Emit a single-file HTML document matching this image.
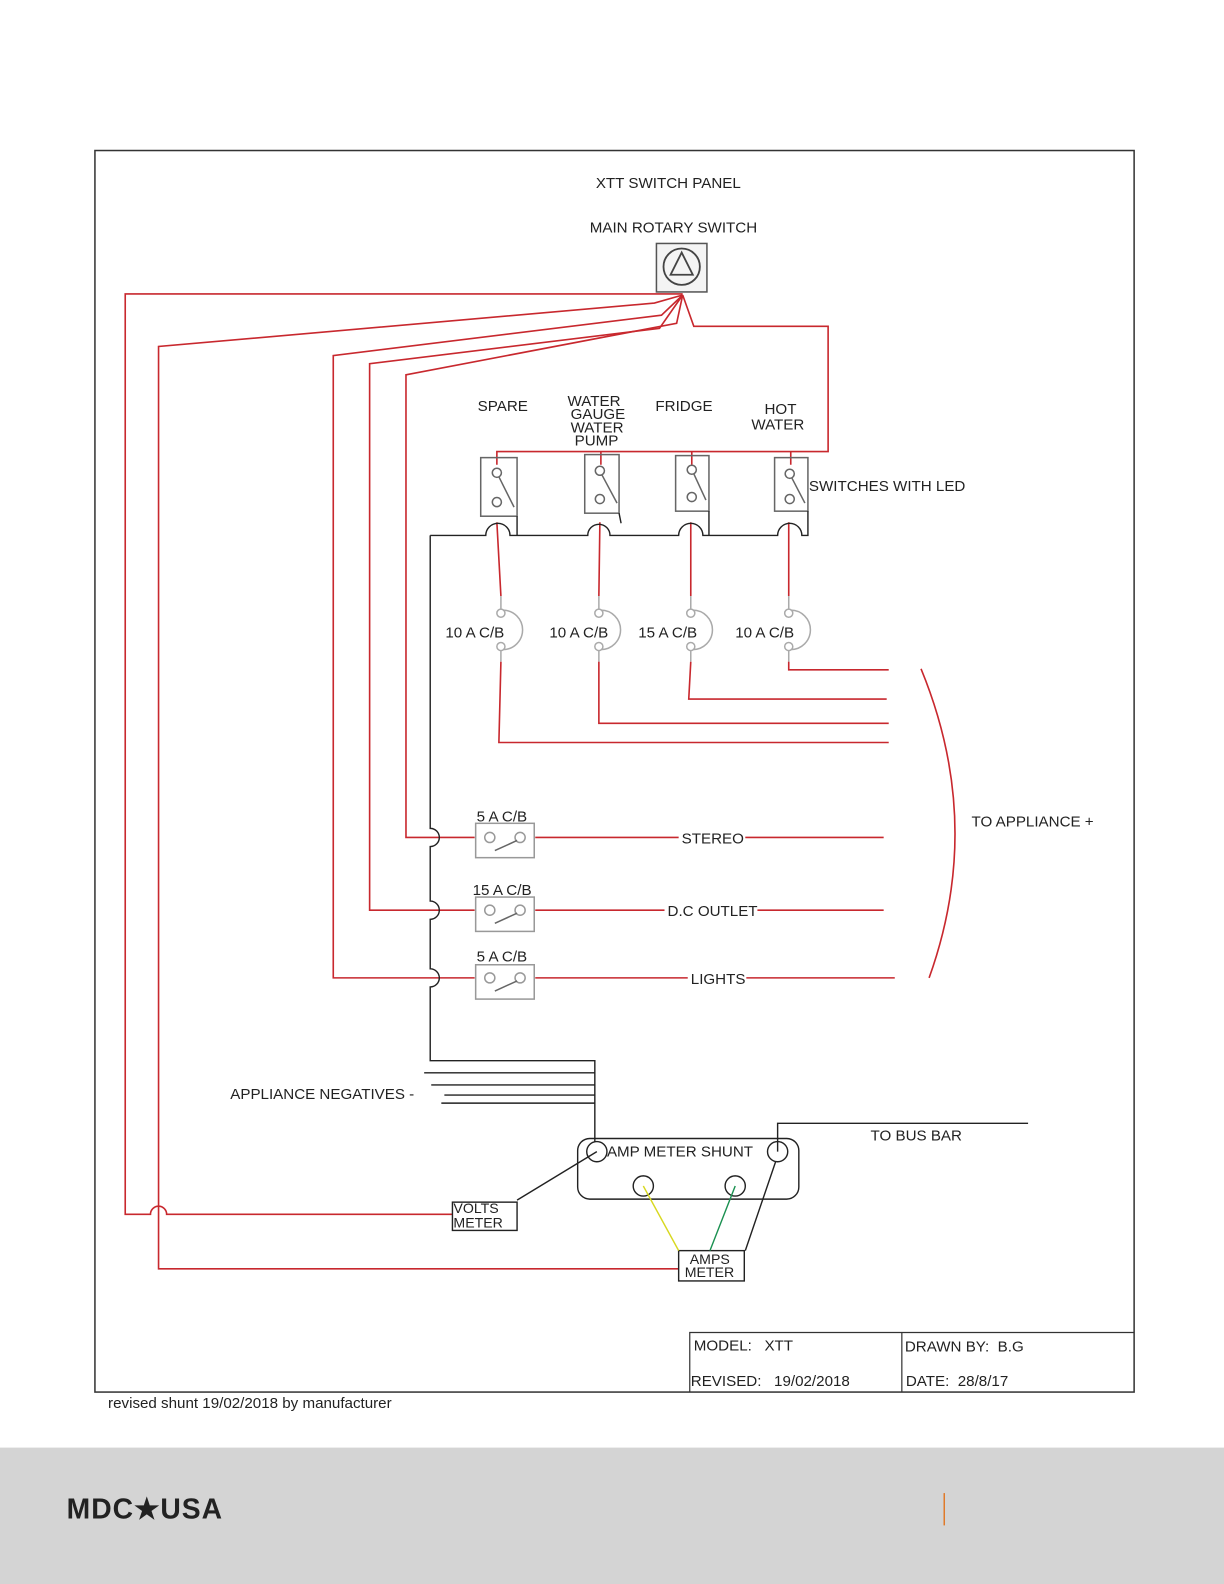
<!DOCTYPE html>
<html><head><meta charset="utf-8"><style>
html,body{margin:0;padding:0;background:#fff}
svg{display:block}
text{font-family:"Liberation Sans",sans-serif;fill:#222}
</style></head><body>
<svg width="1224" height="1584" viewBox="0 0 1212 1568" preserveAspectRatio="none" xmlns="http://www.w3.org/2000/svg">
<rect x="0" y="1433" width="1212" height="135" fill="#d4d4d4"/>
<line x1="935" y1="1478" x2="935" y2="1510" stroke="#e07a2a" stroke-width="1.5"/>
<text x="66" y="1503" font-size="28" font-weight="bold" fill="#222" style="fill:#222;letter-spacing:1px">MDC★USA</text>
<rect x="94" y="149" width="1029" height="1229" fill="none" stroke="#333" stroke-width="1.5"/>
<!-- rotary -->
<rect x="650" y="241" width="50" height="48" fill="#f4f4f4" stroke="#555" stroke-width="1.5"/>
<circle cx="675" cy="264" r="18" fill="none" stroke="#444" stroke-width="1.8"/>
<path d="M675 250 L664 272 H686 Z" fill="none" stroke="#444" stroke-width="1.8"/>
<g fill="none" stroke="#c8282e" stroke-width="1.6">
<path d="M676 291 H124 V1202 H149 A8 8 0 0 1 165 1202 H448"/>
<path d="M676 292 L648 300 L157 343 V1256 H672"/>
<path d="M676 292 L655 312 L330 352 V968 H470"/>
<path d="M676 292 L653 325 L366 360 V901 H470"/>
<path d="M676 292 L670 320 L402 371 V829 H470"/>
<path d="M676 292 L687 323 H820 V447 H492 V460"/>
<path d="M595 447 V460 M685 447 V460 M783 447 V460"/>
<path d="M492 517 L496 590 M594 517 L593 590 M684 517 V590 M781 517 V590"/>
<path d="M496 655 L494 735 H880 M593 655 V716 H880 M684 655 L682 692 H878 M781 655 V663 H880"/>
<path d="M530 829 H875 M530 901 H875 M530 968 H886"/>
<path d="M912 662 Q975 815 920 968"/>
</g>
<g font-size="15">
<rect x="672" y="820" width="66" height="18" fill="#fff"/>
<rect x="658" y="892" width="92" height="18" fill="#fff"/>
<rect x="681" y="959" width="58" height="18" fill="#fff"/>
<text x="590" y="186">XTT SWITCH PANEL</text>
<text x="584" y="230">MAIN ROTARY SWITCH</text>
<text x="473" y="407">SPARE</text>
<text x="562" y="402">WATER</text><text x="565" y="415">GAUGE</text><text x="565" y="428">WATER</text><text x="569" y="441">PUMP</text>
<text x="649" y="407">FRIDGE</text>
<text x="757" y="410">HOT</text><text x="744" y="425">WATER</text>
<text x="801" y="486">SWITCHES WITH LED</text>
<text x="441" y="631">10 A C/B</text><text x="544" y="631">10 A C/B</text><text x="632" y="631">15 A C/B</text><text x="728" y="631">10 A C/B</text>
<text x="472" y="813">5 A C/B</text><text x="468" y="886">15 A C/B</text><text x="472" y="952">5 A C/B</text>
<text x="675" y="835">STEREO</text><text x="661" y="907">D.C OUTLET</text><text x="684" y="974">LIGHTS</text>
<text x="962" y="818">TO APPLIANCE +</text>
<text x="228" y="1088">APPLIANCE NEGATIVES -</text>
<text x="601" y="1145">AMP METER SHUNT</text>
<text x="862" y="1129">TO BUS BAR</text>
<text x="449" y="1201" font-size="14">VOLTS</text><text x="449" y="1215" font-size="14">METER</text>
<text x="683" y="1251" font-size="14">AMPS</text><text x="678" y="1264" font-size="14">METER</text>
<text x="687" y="1337">MODEL:&#160;&#160; XTT</text>
<text x="684" y="1372">REVISED:&#160;&#160; 19/02/2018</text>
<text x="896" y="1338">DRAWN BY:&#160; B.G</text>
<text x="897" y="1372">DATE:&#160; 28/8/17</text>
<text x="107" y="1394">revised shunt 19/02/2018 by manufacturer</text>
</g>
<!-- title block -->
<path d="M683 1378 V1319 H1123 M893 1319 V1378" fill="none" stroke="#333" stroke-width="1.2"/>
<!-- switches -->
<g fill="none" stroke="#666" stroke-width="1.5">
<rect x="476" y="453" width="36" height="58"/>
<rect x="579" y="450" width="34" height="58"/>
<rect x="669" y="451" width="33" height="55"/>
<rect x="767" y="453" width="33" height="53"/>
<circle cx="492" cy="468" r="4.5"/><circle cx="492" cy="497" r="4.5"/><path d="M494 472 L509 502"/>
<circle cx="594" cy="466" r="4.5"/><circle cx="594" cy="494" r="4.5"/><path d="M596 470 L611 498"/>
<circle cx="685" cy="465" r="4.5"/><circle cx="685" cy="492" r="4.5"/><path d="M687 469 L699 495"/>
<circle cx="782" cy="469" r="4.5"/><circle cx="782" cy="494" r="4.5"/><path d="M784 473 L797 498"/>
</g>
<!-- small CBs -->
<g fill="none" stroke="#aaa" stroke-width="1.5">
<path d="M496 590 V603"/><circle cx="496" cy="607" r="4"/><circle cx="496" cy="640" r="4"/><path d="M498 604 A16 16 0 0 1 498 643 M496 644 V655"/>
<path d="M593 590 V603"/><circle cx="593" cy="607" r="4"/><circle cx="593" cy="640" r="4"/><path d="M595 604 A16 16 0 0 1 595 643 M593 644 V655"/>
<path d="M684 590 V603"/><circle cx="684" cy="607" r="4"/><circle cx="684" cy="640" r="4"/><path d="M686 604 A16 16 0 0 1 686 643 M684 644 V655"/>
<path d="M781 590 V603"/><circle cx="781" cy="607" r="4"/><circle cx="781" cy="640" r="4"/><path d="M783 604 A16 16 0 0 1 783 643 M781 644 V655"/>
</g>
<g fill="#fff" stroke="#999" stroke-width="1.5">
<rect x="471" y="815" width="58" height="34"/><rect x="471" y="888" width="58" height="34"/><rect x="471" y="955" width="58" height="34"/>
<circle cx="485" cy="829" r="5"/><circle cx="515" cy="829" r="5"/>
<circle cx="485" cy="901" r="5"/><circle cx="515" cy="901" r="5"/>
<circle cx="485" cy="968" r="5"/><circle cx="515" cy="968" r="5"/>
<path d="M490 842 L512 832 M490 914 L512 904 M490 981 L512 971" fill="none" stroke="#666"/>
</g>
<!-- black wiring -->
<g fill="none" stroke="#222" stroke-width="1.4">
<path d="M426 530 V820 A9 9 0 0 1 426 838 V892 A9 9 0 0 1 426 910 V959 A9 9 0 0 1 426 977 V1050 H589 V1130"/>
<path d="M426 530 H481 A12 12 0 0 1 505 530 H582 A11 11 0 0 1 604 530 H672 A12 12 0 0 1 696 530 H770 A12 12 0 0 1 794 530 H800 V506"/>
<path d="M512 511 V530 M613 508 L615 518 M702 506 V530"/>
<path d="M420 1062 H589 M427 1074 H589 M440 1084 H589 M437 1092 H589"/>
<rect x="572" y="1127" width="219" height="60" rx="12"/>
<circle cx="591" cy="1140" r="10"/><circle cx="770" cy="1140" r="10"/><circle cx="637" cy="1174" r="10"/><circle cx="728" cy="1174" r="10"/>
<path d="M770 1140 V1112 H1018"/>
<path d="M591 1140 L512 1188 M768 1150 L738 1238"/>
<rect x="448" y="1190" width="64" height="28"/>
<rect x="672" y="1238" width="65" height="30"/>
</g>
<path d="M637 1174 L672 1238" stroke="#d8d820" stroke-width="1.4"/>
<path d="M728 1174 L703 1238" stroke="#1a9050" stroke-width="1.4"/>
</svg>
</body></html>
